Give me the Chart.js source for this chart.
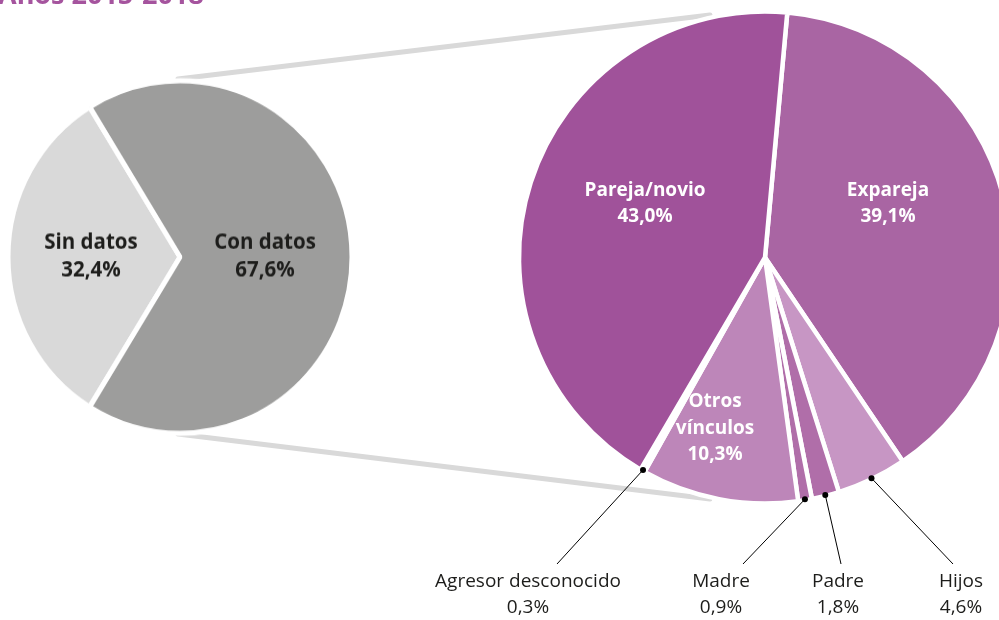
<!DOCTYPE html>
<html>
<head>
<meta charset="utf-8">
<script src="https://cdn.jsdelivr.net/npm/chart.js@4.4.0/dist/chart.umd.min.js"></script>
<style>
    html, body { margin: 0; padding: 0; background: #fff; overflow: hidden; width: 999px; height: 620px; }
    #wrap { position: relative; width: 999px; height: 620px; overflow: hidden; }
    #mainBox { position: absolute; left: 0; top: 0; width: 1040px; height: 620px; }
    /* the source graphic is a touch taller than wide on the left pie */
    #leftBox { position: absolute; left: 5px; top: 82px; width: 350px; height: 350px; transform: scaleY(1.025); transform-origin: 50% 50%; }
</style>
</head>
<body>
<div id="wrap">
    <div id="mainBox"><canvas id="mainChart"></canvas></div>
    <div id="leftBox"><canvas id="leftChart"></canvas></div>
</div>
<script>
// data
const titleText = 'Años 2015-2018';
const overviewLabels = ['Sin datos', 'Con datos'];
const overviewValues = [32.4, 67.6];
const linkLabels = ['Expareja', 'Hijos', 'Padre', 'Madre', 'Otros vínculos', 'Agresor desconocido', 'Pareja/novio'];
const linkValues = [39.1, 4.6, 1.8, 0.9, 10.3, 0.3, 43.0];

// look
const overviewColors = ['#d9d9d9', '#9d9d9c'];
const linkColors = ['#a965a3', '#c796c4', '#b06ea9', '#b06ea9', '#bd86b9', '#b06ea9', '#a0529a'];
const FONT = "'Open Sans', sans-serif";

// label placement (offsets from pie centre, or absolute for the outside labels)
const innerLabelSpots = {
    'Pareja/novio': [-120, -54],
    'Expareja': [123, -54],
    'Otros vínculos': [-50, 171]
};
const innerLabelLines = { 'Otros vínculos': ['Otros', 'vínculos'] };
const overviewLabelSpots = { 'Sin datos': [-89, 0], 'Con datos': [85, 0] };
const outerLabelSpots = {
    'Agresor desconocido': { x: 528, lineX: 557 },
    'Madre': { x: 721, lineX: 743 },
    'Padre': { x: 838, lineX: 841 },
    'Hijos': { x: 961, lineX: 953 }
};
const connectorLines = [[178, 79, 710, 15], [178, 434, 710, 499]];

const fmt = v => v.toFixed(1).replace('.', ',') + '%';

function drawLines(ctx, lines, x, y, lh) {
    const top = y - (lines.length - 1) * lh / 2;
    lines.forEach((t, i) => ctx.fillText(t, x, top + i * lh));
}

const mainDecor = {
    id: 'mainDecor',
    beforeDatasetsDraw(chart) {
        const ctx = chart.ctx;
        ctx.save();
        // title, cut off at the top edge like the source
        ctx.fillStyle = '#a5549e';
        ctx.font = 'bold 27px ' + FONT;
        ctx.textAlign = 'left';
        ctx.textBaseline = 'alphabetic';
        ctx.fillText(titleText, -2, 4);
        // grey connectors between the two pies
        ctx.strokeStyle = '#d9d9d9';
        ctx.lineWidth = 5;
        ctx.lineCap = 'round';
        connectorLines.forEach(l => {
            ctx.beginPath();
            ctx.moveTo(l[0], l[1]);
            ctx.lineTo(l[2], l[3]);
            ctx.stroke();
        });
        ctx.restore();
    },
    afterDatasetsDraw(chart) {
        const ctx = chart.ctx;
        const meta = chart.getDatasetMeta(0);
        ctx.save();
        ctx.textAlign = 'center';
        ctx.textBaseline = 'middle';
        meta.data.forEach((arc, i) => {
            const name = linkLabels[i];
            const p = arc.getProps(['x', 'y', 'startAngle', 'endAngle', 'outerRadius'], true);
            if (innerLabelSpots[name]) {
                const [dx, dy] = innerLabelSpots[name];
                const lines = (innerLabelLines[name] || [name]).concat([fmt(linkValues[i])]);
                ctx.fillStyle = '#ffffff';
                ctx.font = 'bold 19px ' + FONT;
                drawLines(ctx, lines, p.x + dx, p.y + dy, 26.5);
            } else if (outerLabelSpots[name]) {
                const spot = outerLabelSpots[name];
                const a = (p.startAngle + p.endAngle) / 2;
                const dx = p.x + Math.cos(a) * (p.outerRadius - 1);
                const dy = p.y + Math.sin(a) * (p.outerRadius - 1);
                ctx.strokeStyle = '#000000';
                ctx.lineWidth = 1;
                ctx.beginPath();
                ctx.moveTo(dx, dy);
                ctx.lineTo(spot.lineX, 564);
                ctx.stroke();
                ctx.fillStyle = '#000000';
                ctx.beginPath();
                ctx.arc(dx, dy, 3, 0, Math.PI * 2);
                ctx.fill();
                ctx.fillStyle = '#1d1d1b';
                ctx.font = '19px ' + FONT;
                drawLines(ctx, [name, fmt(linkValues[i])], spot.x, 595, 26);
            }
        });
        ctx.restore();
    }
};

const overviewDecor = {
    id: 'overviewDecor',
    afterDatasetsDraw(chart) {
        const ctx = chart.ctx;
        const meta = chart.getDatasetMeta(0);
        ctx.save();
        ctx.textAlign = 'center';
        ctx.textBaseline = 'middle';
        ctx.fillStyle = '#1d1d1b';
        ctx.font = 'bold 20.5px ' + FONT;
        meta.data.forEach((arc, i) => {
            const name = overviewLabels[i];
            const [dx, dy] = overviewLabelSpots[name];
            drawLines(ctx, [name, fmt(overviewValues[i])], arc.x + dx, arc.y + dy, 27);
        });
        ctx.restore();
    }
};

const commonOptions = {
    responsive: true,
    maintainAspectRatio: false,
    animation: false,
    events: [],
    plugins: { legend: { display: false }, tooltip: { enabled: false } }
};

new Chart(document.getElementById('mainChart'), {
    type: 'pie',
    data: {
        labels: linkLabels,
        datasets: [{
            data: linkValues,
            backgroundColor: linkColors,
            borderColor: '#ffffff',
            borderWidth: 4.5,
            hoverOffset: 0,
            radius: 246
        }]
    },
    options: Object.assign({}, commonOptions, {
        rotation: 5.2,
        layout: { padding: { left: 515, right: 25, top: 7, bottom: 112 } }
    }),
    plugins: [mainDecor]
});

new Chart(document.getElementById('leftChart'), {
    type: 'pie',
    data: {
        labels: overviewLabels,
        datasets: [{
            data: overviewValues,
            backgroundColor: overviewColors,
            borderColor: '#ffffff',
            borderWidth: 5,
            hoverOffset: 0,
            radius: 172
        }]
    },
    options: Object.assign({}, commonOptions, {
        rotation: 211.7
    }),
    plugins: [overviewDecor]
});
</script>
</body>
</html>
